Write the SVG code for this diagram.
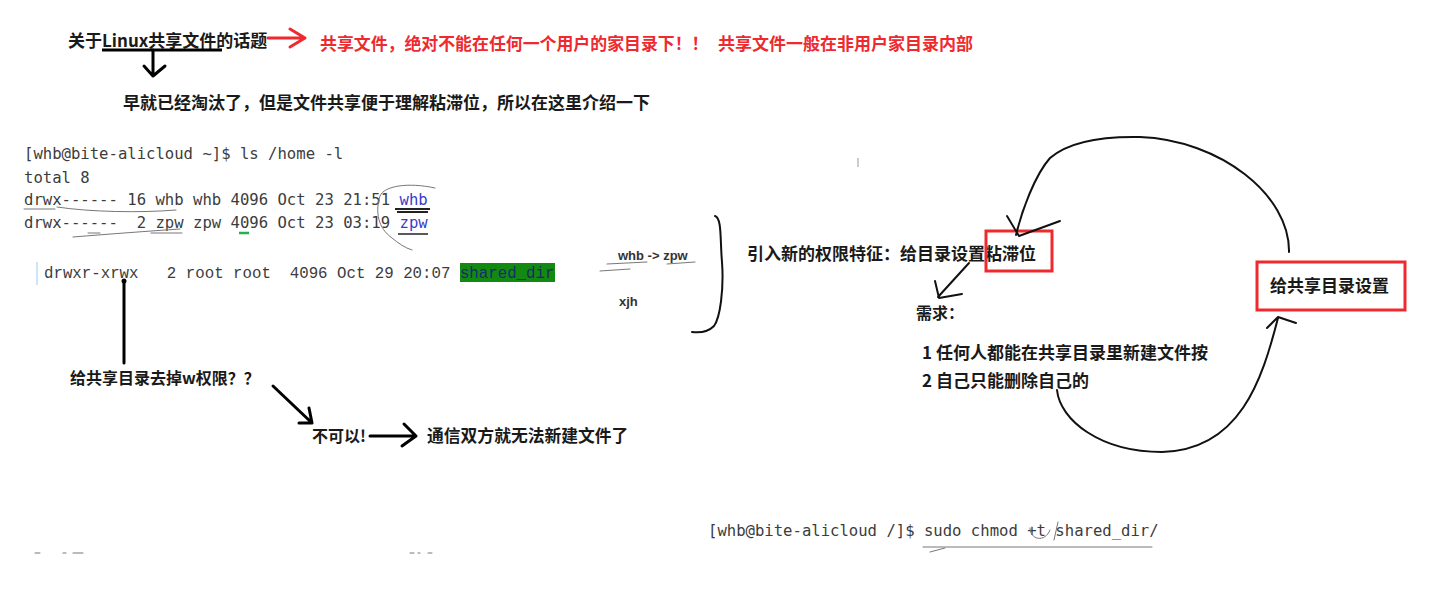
<svg xmlns="http://www.w3.org/2000/svg" width="1455" height="610" viewBox="0 0 1455 610" xml:space="preserve">
<style>
text{white-space:pre}
.t{font-family:"Noto Sans CJK SC","Noto Sans",sans-serif;font-weight:bold;fill:#1a1a1a}
.r{font-family:"Noto Sans CJK SC","Noto Sans",sans-serif;font-weight:bold;fill:#ee2a2f}
.m{font-family:"DejaVu Sans Mono",monospace;font-size:15.6px;fill:#3c3c3c}
.ms{font-family:"Liberation Mono",monospace;font-size:15.75px;fill:#3c3c3c}
.pen{fill:none;stroke:#000;stroke-width:3;stroke-linecap:round;stroke-linejoin:round}
.thin{fill:none;stroke:#111;stroke-width:2;stroke-linecap:round;stroke-linejoin:round}
.scr{fill:none;stroke:#777;stroke-width:1;stroke-linecap:round}
.box{fill:none;stroke:#ee2a2f;stroke-width:3}
</style>
<rect width="1455" height="610" fill="#fff"/>

<g id="title">
<text class="t" x="68" y="47" font-size="17">关于Linux共享文件的话题</text>
<line x1="102" y1="50" x2="222" y2="50" stroke="#000" stroke-width="3"/>
</g>
<g id="warning">
<text class="r" x="320" y="50" font-size="16.9">共享文件，绝对不能在任何一个用户的家目录下！！</text>
<text class="r" x="718" y="50" font-size="17">共享文件一般在非用户家目录内部</text>
</g>
<g id="obsolete">
<text class="t" x="123" y="109" font-size="17">早就已经淘汰了，但是文件共享便于理解粘滞位，所以在这里介绍一下</text>
</g>

<g id="terminal-home">
<text class="m" x="24" y="159">[whb@bite-alicloud ~]$ ls /home -l</text>
<text class="m" x="24" y="183">total 8</text>
<text class="m" x="24" y="205">drwx------ 16 whb whb 4096 Oct 23 21:51 <tspan fill="#3b3bc8">whb</tspan></text>
<text class="m" x="24" y="228">drwx------  2 zpw zpw 4096 Oct 23 03:19 <tspan fill="#3b3bc8">zpw</tspan></text>
<line x1="239" y1="233" x2="249" y2="233" stroke="#22b14c" stroke-width="2.5"/>
<path class="scr" d="M57,207 C90,212 140,213 176,210"/>
<path class="scr" d="M73,237 C110,234 150,231 180,229"/>
<path class="scr" d="M24,209 L55,209 M151,233 L182,233 M88,233 L100,233"/>
<path class="scr" d="M435,188 C408,182 384,186 380,196 C375,212 378,228 392,238 C398,243 405,248 412,250"/>
<path d="M395,209 L430,209 M397,212 L428,212" stroke="#222" stroke-width="2" fill="none"/>
<path d="M398,234 L428,234" stroke="#222" stroke-width="1.5" fill="none"/>
</g>

<g id="shared-dir">
<line x1="37" y1="262" x2="37" y2="285" stroke="#9ccaf0" stroke-width="1"/>
<rect x="460" y="263" width="95" height="19" fill="#128a12"/>
<text class="ms" x="44" y="278">drwxr-xrwx   2 root root  4096 Oct 29 20:07 <tspan fill="#1a2a6a">shared_dir</tspan></text>
</g>

<g id="remove-w">
<text class="t" x="70" y="384" font-size="16">给共享目录去掉w权限？？</text>
</g>
<g id="cannot">
<text class="t" x="312" y="442" font-size="16">不可以!</text>
</g>
<g id="no-create">
<text class="t" x="427" y="442" font-size="16.8">通信双方就无法新建文件了</text>
</g>

<g id="users">
<text x="618" y="260" font-family="Liberation Sans,Arial,sans-serif" font-size="13" font-weight="bold" fill="#333">whb -&gt; zpw</text>
<text x="619" y="306" font-family="Liberation Sans,Arial,sans-serif" font-size="13" font-weight="bold" fill="#333">xjh</text>
<path class="scr" d="M607,264 L647,262 M600,271 L630,269 M667,264 L695,262"/>
</g>

<g id="sticky">
<text class="t" x="747" y="260" font-size="17">引入新的权限特征：给目录设置粘滞位</text>
<rect class="box" x="986" y="231" width="66" height="40"/>
</g>

<g id="needs">
<text class="t" x="916" y="319" font-size="16">需求：</text>
<text class="t" x="922" y="359" font-size="17">1 任何人都能在共享目录里新建文件按</text>
<text class="t" x="922" y="387" font-size="17">2 自己只能删除自己的</text>
</g>

<g id="set-shared">
<rect class="box" x="1257" y="262" width="148" height="48"/>
<text class="t" x="1270" y="292" font-size="17">给共享目录设置</text>
</g>

<g id="command">
<text class="m" x="708" y="536">[whb@bite-alicloud /]$ sudo chmod +t shared_dir/</text>
<path class="scr" d="M923,547 L1152,547 M930,552 L945,548"/>
<path class="scr" d="M1030,528 C1030,540 1045,543 1050,530 M1058,522 L1054,540"/>
</g>

<g id="connectors">
<path class="pen" d="M153,50 L153,76 M144,66 L153,76 L165,66"/>
<path d="M268,38 L305,38 M290,29 L305,38 L290,47" fill="none" stroke="#ee2a2f" stroke-width="3" stroke-linecap="round" stroke-linejoin="round"/>
<path class="pen" d="M124,281 L124,363"/>
<circle cx="124" cy="281" r="2.5" fill="#000"/>
<path class="pen" d="M273,386 L312,423 M299,423 L312,423 L309,408"/>
<path class="pen" d="M370,436 L416,436 M404,424 L416,436 L402,446"/>
<path class="thin" d="M715,216 C722,218 720,240 722,262 C724,290 720,318 714,326 C708,332 700,333 692,332"/>
<path class="thin" d="M969,263 L938,297 M935,281 L939,298 L962,294"/>
<path class="thin" d="M1289,252 C1290,195 1220,140 1140,137 C1090,136 1065,145 1050,158 C1035,175 1022,210 1016,235 M1007,216 L1019,236 L1060,221"/>
<path class="thin" d="M1057,390 C1060,420 1100,452 1162,452 C1240,450 1262,380 1278,318 M1267,328 L1278,317 L1296,323"/>
</g>

<g id="specks">
<line x1="858" y1="158" x2="858" y2="167" stroke="#999" stroke-width="1"/>
<path class="scr" d="M35,553 L40,553 M63,553 L66,553 M73,553 L83,553 M410,553 L414,553 M418,553 L420,553 M428,553 L432,553" stroke="#ccc"/>
</g>
</svg>
